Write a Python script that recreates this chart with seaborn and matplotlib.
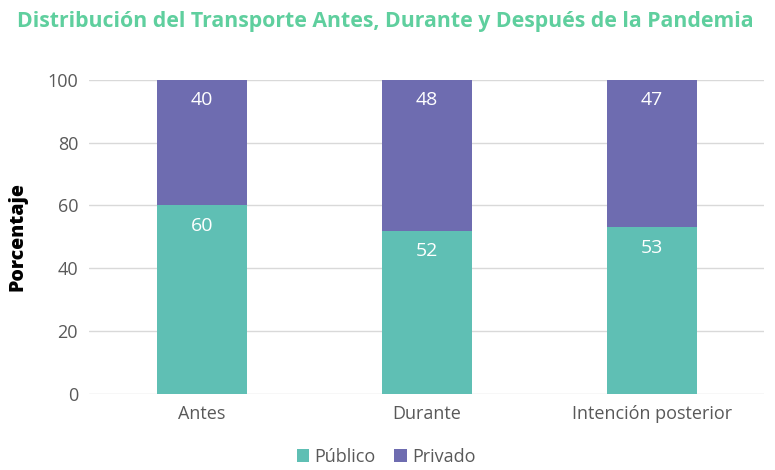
import matplotlib
matplotlib.use('Agg')
import matplotlib.pyplot as plt
import pandas as pd
import seaborn as sns

categorias = ['Antes', 'Durante', 'Intención posterior']
publico = [60, 52, 53]
privado = [40, 48, 47]

col_pub = '#5fbfb4'
col_priv = '#6e6cb0'

sns.set_style('white')
plt.rcParams['font.family'] = ['Open Sans', 'DejaVu Sans']

df = pd.DataFrame({'Categoria': categorias, 'Público': publico, 'Privado': privado})

fig = plt.figure(figsize=(7.75, 4.7), dpi=100)
ax = fig.add_axes([0.115, 0.162, 0.871, 0.668])

sns.barplot(data=df, x='Categoria', y='Público', color=col_pub, width=0.4,
            saturation=1, linewidth=0, label='Público', ax=ax, zorder=3)
sns.barplot(data=df, x='Categoria', y='Privado', color=col_priv, width=0.4,
            saturation=1, linewidth=0, bottom=df['Público'], label='Privado',
            ax=ax, zorder=3)

for cont, vals in zip(ax.containers, [publico, privado]):
    ax.bar_label(cont, labels=[str(v) for v in vals], padding=-21,
                 color='white', fontsize=14)

ax.set_ylim(0, 100)
ax.set_xlim(-0.5, 2.5)
ax.set_yticks([0, 20, 40, 60, 80, 100])
ax.yaxis.grid(True, color='#d9d9d9', linewidth=1, zorder=0)
ax.set_axisbelow(True)
sns.despine(ax=ax, left=True, bottom=True)
ax.tick_params(axis='both', length=0, labelsize=13, colors='#595959', pad=8)
ax.set_xlabel('')
ax.set_ylabel('Porcentaje', fontsize=14, fontweight='heavy', color='black', labelpad=14)

ax.legend(loc='upper center', bbox_to_anchor=(0.44, -0.14), ncol=2, frameon=False,
          fontsize=13, handlelength=0.7, handleheight=0.7, handletextpad=0.3,
          columnspacing=1.0, labelcolor='#595959', borderaxespad=0.15)

fig.text(0.022, 0.955, 'Distribución del Transporte Antes, Durante y Después de la Pandemia',
         fontsize=15.3, fontweight='bold', color='#5fcf9e', va='center')

fig.savefig('out.png', dpi=100)
